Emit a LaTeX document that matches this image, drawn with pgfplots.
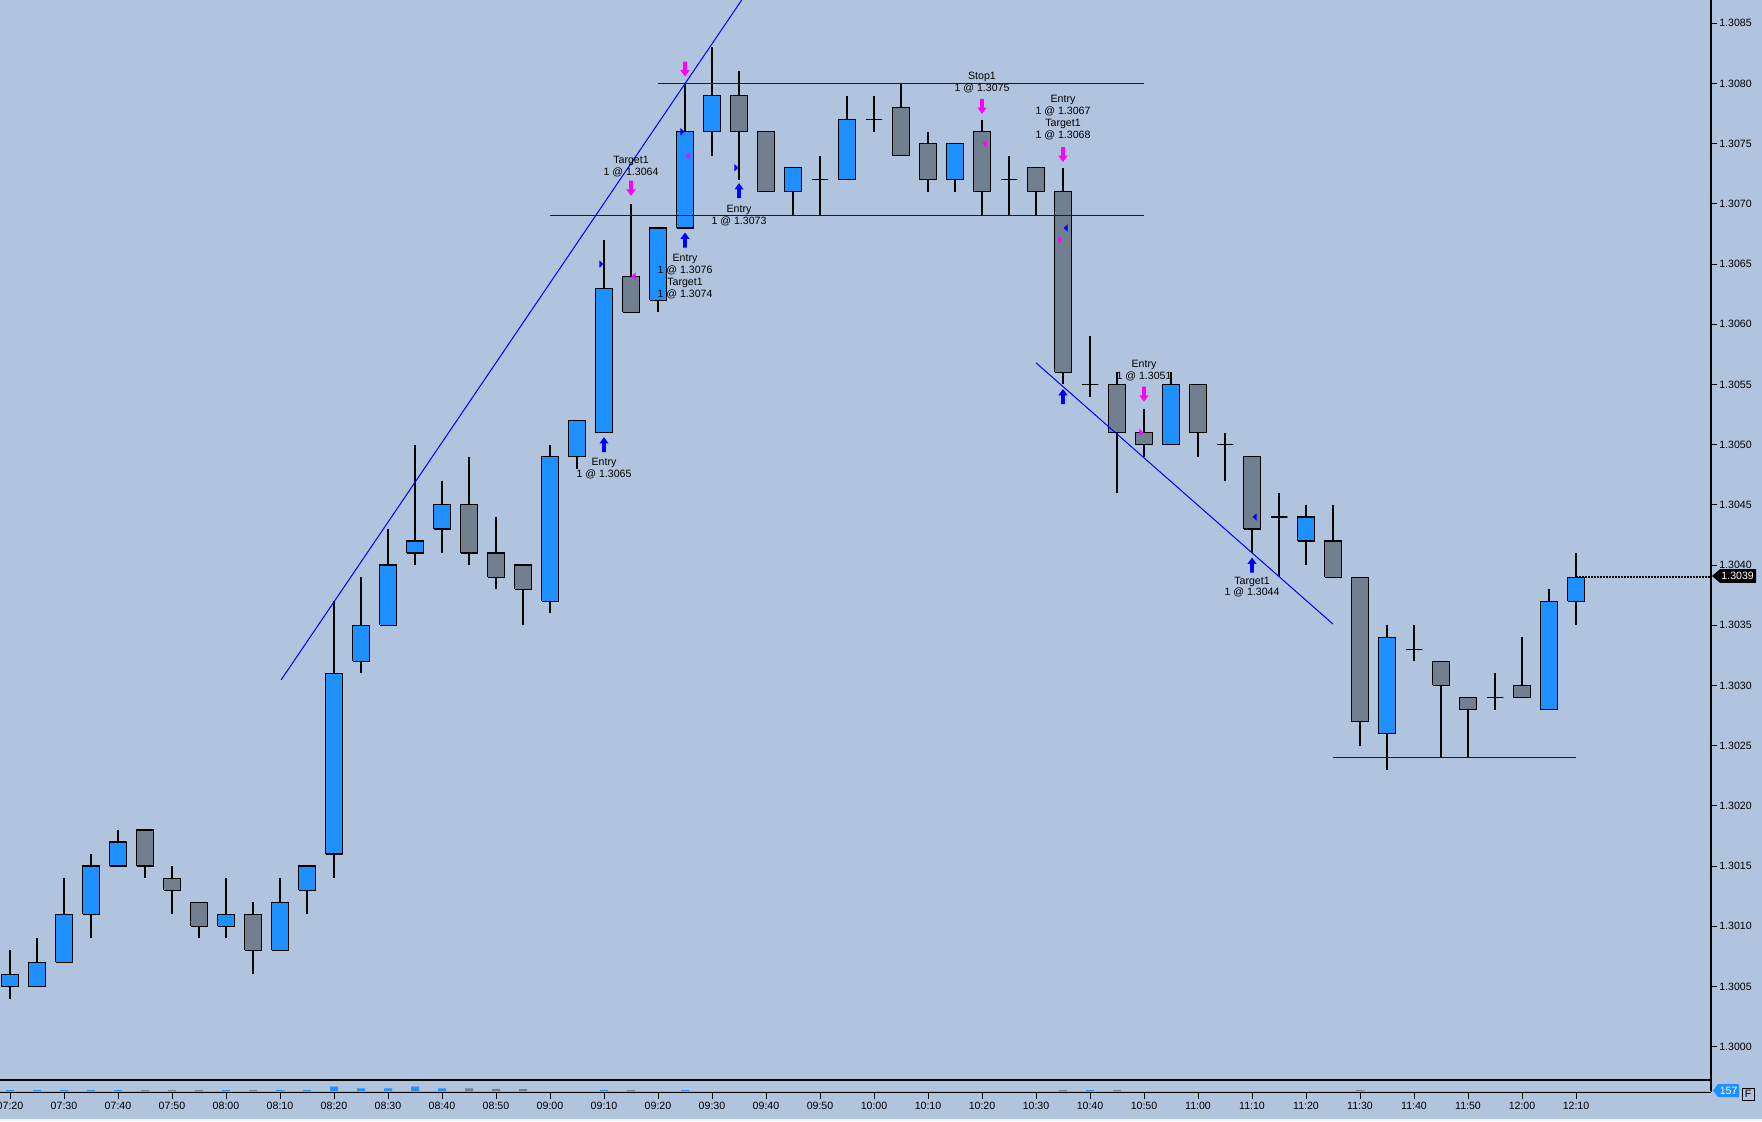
\documentclass[border=0pt]{standalone}
\usepackage{fontspec}
\setmainfont{Liberation Sans}
\usepackage{pgfplots}
\usepackage{pgfplotstable}
\pgfplotsset{compat=1.18}

\definecolor{bgc}{RGB}{176,196,222}
\definecolor{upc}{RGB}{30,144,255}
\definecolor{dnc}{RGB}{112,128,144}
\definecolor{mag}{RGB}{255,0,255}
\definecolor{lblue}{RGB}{0,0,255}
\definecolor{vline}{RGB}{165,170,180}

\newcommand\tfont{\fontsize{5.3}{6}\selectfont}

% arrow and triangle marks (fill only)
\pgfdeclareplotmark{uparr}{%
  \pgfpathmoveto{\pgfqpoint{0pt}{3.75pt}}%
  \pgfpathlineto{\pgfqpoint{2.3pt}{0.6pt}}%
  \pgfpathlineto{\pgfqpoint{0.95pt}{0.6pt}}%
  \pgfpathlineto{\pgfqpoint{0.95pt}{-3.75pt}}%
  \pgfpathlineto{\pgfqpoint{-0.95pt}{-3.75pt}}%
  \pgfpathlineto{\pgfqpoint{-0.95pt}{0.6pt}}%
  \pgfpathlineto{\pgfqpoint{-2.3pt}{0.6pt}}%
  \pgfpathclose\pgfusepathqfill}
\pgfdeclareplotmark{dnarr}{%
  \pgfpathmoveto{\pgfqpoint{0pt}{-3.75pt}}%
  \pgfpathlineto{\pgfqpoint{2.3pt}{-0.6pt}}%
  \pgfpathlineto{\pgfqpoint{0.95pt}{-0.6pt}}%
  \pgfpathlineto{\pgfqpoint{0.95pt}{3.75pt}}%
  \pgfpathlineto{\pgfqpoint{-0.95pt}{3.75pt}}%
  \pgfpathlineto{\pgfqpoint{-0.95pt}{-0.6pt}}%
  \pgfpathlineto{\pgfqpoint{-2.3pt}{-0.6pt}}%
  \pgfpathclose\pgfusepathqfill}
\pgfdeclareplotmark{rtri}{%
  \pgfpathmoveto{\pgfqpoint{0pt}{0pt}}%
  \pgfpathlineto{\pgfqpoint{-2pt}{1.8pt}}%
  \pgfpathlineto{\pgfqpoint{-2pt}{-1.8pt}}%
  \pgfpathclose\pgfusepathqfill}
\pgfdeclareplotmark{ltri}{%
  \pgfpathmoveto{\pgfqpoint{0pt}{0pt}}%
  \pgfpathlineto{\pgfqpoint{2pt}{1.8pt}}%
  \pgfpathlineto{\pgfqpoint{2pt}{-1.8pt}}%
  \pgfpathclose\pgfusepathqfill}

% 5 minute bars from 07:20 (i=0) to 12:10 (i=58)
% lo/hi = body bottom/top, up=1 for rising bar
\pgfplotstableread{
i lo hi l h up
0 1.3005 1.3006 1.3004 1.3008 1
1 1.3005 1.3007 1.3005 1.3009 1
2 1.3007 1.3011 1.3007 1.3014 1
3 1.3011 1.3015 1.3009 1.3016 1
4 1.3015 1.3017 1.3015 1.3018 1
5 1.3015 1.3018 1.3014 1.3018 0
6 1.3013 1.3014 1.3011 1.3015 0
7 1.3010 1.3012 1.3009 1.3012 0
8 1.3010 1.3011 1.3009 1.3014 1
9 1.3008 1.3011 1.3006 1.3012 0
10 1.3008 1.3012 1.3008 1.3014 1
11 1.3013 1.3015 1.3011 1.3015 1
12 1.3016 1.3031 1.3014 1.3037 1
13 1.3032 1.3035 1.3031 1.3039 1
14 1.3035 1.3040 1.3035 1.3043 1
15 1.3041 1.3042 1.3040 1.3050 1
16 1.3043 1.3045 1.3041 1.3047 1
17 1.3041 1.3045 1.3040 1.3049 0
18 1.3039 1.3041 1.3038 1.3044 0
19 1.3038 1.3040 1.3035 1.3040 0
20 1.3037 1.3049 1.3036 1.3050 1
21 1.3049 1.3052 1.3048 1.3052 1
22 1.3051 1.3063 1.3051 1.3067 1
23 1.3061 1.3064 1.3061 1.3070 0
24 1.3062 1.3068 1.3061 1.3068 1
25 1.3068 1.3076 1.3068 1.3080 1
26 1.3076 1.3079 1.3074 1.3083 1
27 1.3076 1.3079 1.3072 1.3081 0
28 1.3071 1.3076 1.3071 1.3076 0
29 1.3071 1.3073 1.3069 1.3073 1
30 1.3072 1.3072 1.3069 1.3074 1
31 1.3072 1.3077 1.3072 1.3079 1
32 1.3077 1.3077 1.3076 1.3079 1
33 1.3074 1.3078 1.3074 1.3080 0
34 1.3072 1.3075 1.3071 1.3076 0
35 1.3072 1.3075 1.3071 1.3075 1
36 1.3071 1.3076 1.3069 1.3077 0
37 1.3072 1.3072 1.3069 1.3074 1
38 1.3071 1.3073 1.3069 1.3073 0
39 1.3056 1.3071 1.3055 1.3073 0
40 1.3055 1.3055 1.3054 1.3059 1
41 1.3051 1.3055 1.3046 1.3056 0
42 1.3050 1.3051 1.3049 1.3053 0
43 1.3050 1.3055 1.3050 1.3056 1
44 1.3051 1.3055 1.3049 1.3055 0
45 1.3050 1.3050 1.3047 1.3051 1
46 1.3043 1.3049 1.3041 1.3049 0
47 1.3044 1.3044 1.3039 1.3046 1
48 1.3042 1.3044 1.3040 1.3045 1
49 1.3039 1.3042 1.3039 1.3045 0
50 1.3027 1.3039 1.3025 1.3039 0
51 1.3026 1.3034 1.3023 1.3035 1
52 1.3033 1.3033 1.3032 1.3035 1
53 1.3030 1.3032 1.3024 1.3032 0
54 1.3028 1.3029 1.3024 1.3029 0
55 1.3029 1.3029 1.3028 1.3031 1
56 1.3029 1.3030 1.3029 1.3034 0
57 1.3028 1.3037 1.3028 1.3038 1
58 1.3037 1.3039 1.3035 1.3041 1
}\candles

\tikzset{ann/.style={font=\tfont, inner sep=0pt, text height=3.8pt, text depth=0pt, anchor=center}}

\begin{document}
\begin{tikzpicture}
\fill[bgc] (0,0) rectangle (881pt,560.5pt);
\fill[white!90!gray] (0,0) rectangle (881pt,1pt);

\begin{axis}[
  at={(0pt,20.5pt)}, anchor=south west,
  width=855.5pt, height=540pt, scale only axis,
  xmin=-0.3704, xmax=63.0,
  ymin=1.2997234, ymax=1.3086935,
  clip=false,
  axis x line*=bottom, axis y line*=right,
  axis line style={black, line width=0.6pt},
  xtick=\empty,
  ytick={1.3000,1.3005,1.3010,1.3015,1.3020,1.3025,1.3030,1.3035,1.3040,1.3045,1.3050,1.3055,1.3060,1.3065,1.3070,1.3075,1.3080,1.3085},
  yticklabels={1.3000,1.3005,1.3010,1.3015,1.3020,1.3025,1.3030,1.3035,1.3040,1.3045,1.3050,1.3055,1.3060,1.3065,1.3070,1.3075,1.3080,1.3085},
  tick align=outside,
  major tick length=2.75pt,
  tick style={black, line width=0.5pt},
  yticklabel style={font=\tfont, anchor=west, inner sep=0pt, xshift=1.2pt},
]
% candles: wick, then body on top
\pgfplotsinvokeforeach{0,...,58}{%
  \pgfplotstablegetelem{#1}{lo}\of\candles\let\cLo\pgfplotsretval
  \pgfplotstablegetelem{#1}{hi}\of\candles\let\cHi\pgfplotsretval
  \pgfplotstablegetelem{#1}{l}\of\candles\let\cL\pgfplotsretval
  \pgfplotstablegetelem{#1}{h}\of\candles\let\cH\pgfplotsretval
  \pgfplotstablegetelem{#1}{up}\of\candles\let\cUp\pgfplotsretval
  \ifnum\cUp=1 \def\cCol{upc}\else\def\cCol{dnc}\fi
  \pgfmathsetmacro\xa{#1-0.305}%
  \pgfmathsetmacro\xb{#1+0.305}%
  \edef\doCandle{%
    \noexpand\addplot[black, line width=0.6pt] coordinates {(#1,\cL) (#1,\cH)};
    \noexpand\addplot[draw=black, line width=0.6pt, fill=\cCol, line join=miter]
      coordinates {(\xa,\cLo) (\xb,\cLo) (\xb,\cHi) (\xa,\cHi) (\xa,\cLo)};}%
  \doCandle
}

% trend lines
\addplot[lblue, line width=0.5pt] coordinates {(10.04,1.303046) (27.10,1.3086935)};
\addplot[lblue, line width=0.5pt] coordinates {(24,1.3080) (42,1.3080)};
\addplot[lblue, line width=0.5pt] coordinates {(20,1.3069) (42,1.3069)};
\addplot[lblue, line width=0.5pt] coordinates {(38,1.30568) (49,1.30351)};
\addplot[lblue, line width=0.5pt] coordinates {(49,1.3024) (58,1.3024)};

% last price
\addplot[black, line width=1pt, dash pattern=on 1pt off 0.5pt] coordinates {(58,1.3039) (63,1.3039)};

% fills
\addplot[only marks, mark=rtri, color=lblue] coordinates {(21.98,1.3065) (24.98,1.3076) (26.98,1.3073)};
\addplot[only marks, mark=rtri, color=mag] coordinates {(38.98,1.3067) (41.98,1.3051)};
\addplot[only marks, mark=ltri, color=lblue] coordinates {(39.02,1.3068) (46.02,1.3044)};
\addplot[only marks, mark=ltri, color=mag] coordinates {(23.02,1.3064) (25.02,1.3074) (36.02,1.3075)};

% orders
\addplot[only marks, mark=uparr, color=lblue] coordinates {(22,1.30500) (25,1.30670) (27,1.30711) (39,1.30540) (46,1.30400)};
\addplot[only marks, mark=dnarr, color=mag] coordinates {(23,1.30713) (25,1.30812) (36,1.30781) (39,1.30741) (42,1.30542)};

% order texts
\node[ann] at (axis cs:23,1.3073646) {Target1};
\node[ann] at (axis cs:23,1.3072650) {1 @ 1.3064};
\node[ann] at (axis cs:22,1.3048563) {Entry};
\node[ann] at (axis cs:22,1.3047566) {1 @ 1.3065};
\node[ann] at (axis cs:25,1.3065507) {Entry};
\node[ann] at (axis cs:25,1.3064510) {1 @ 1.3076};
\node[ann] at (axis cs:25,1.3063513) {Target1};
\node[ann] at (axis cs:25,1.3062517) {1 @ 1.3074};
\node[ann] at (axis cs:27,1.3069576) {Entry};
\node[ann] at (axis cs:27,1.3068580) {1 @ 1.3073};
\node[ann] at (axis cs:36,1.3080623) {Stop1};
\node[ann] at (axis cs:36,1.3079651) {1 @ 1.3075};
\node[ann] at (axis cs:39,1.3078704) {Entry};
\node[ann] at (axis cs:39,1.3077733) {1 @ 1.3067};
\node[ann] at (axis cs:39,1.3076728) {Target1};
\node[ann] at (axis cs:39,1.3075756) {1 @ 1.3068};
\node[ann] at (axis cs:42,1.3056736) {Entry};
\node[ann] at (axis cs:42,1.3055764) {1 @ 1.3051};
\node[ann] at (axis cs:46,1.3038738) {Target1};
\node[ann] at (axis cs:46,1.3037766) {1 @ 1.3044};
\end{axis}

% volume strip and time axis
\begin{axis}[
  at={(0pt,14.5pt)}, anchor=south west,
  width=855.5pt, height=6pt, scale only axis,
  xmin=-0.3704, xmax=63.0, ymin=-1, ymax=11,
  clip=false,
  axis x line*=bottom, axis y line*=right,
  axis line style={black, line width=0.6pt},
  ytick=\empty,
  xtick={0,2,...,58},
  xticklabels={07:20,07:30,07:40,07:50,08:00,08:10,08:20,08:30,08:40,08:50,09:00,09:10,09:20,09:30,09:40,09:50,10:00,10:10,10:20,10:30,10:40,10:50,11:00,11:10,11:20,11:30,11:40,11:50,12:00,12:10},
  tick align=outside,
  major tick length=3.5pt,
  tick style={black, line width=0.5pt},
  xticklabel style={font=\tfont, anchor=north, inner sep=0pt, text height=3.8pt, yshift=-1pt},
]
\addplot[vline, line width=0.6pt] coordinates {(-0.3704,-0.5) (63,-0.5)};
\addplot[ybar, bar width=4pt, bar shift=0pt, fill=upc, draw=none] coordinates {
  (0,1) (1,1) (2,1) (3,1) (4,1) (8,1) (10,1) (11,1) (12,4.5) (13,2.7)
  (14,2.7) (15,4.5) (16,2.7) (22,1) (25,1) (40,1)};
\addplot[ybar, bar width=4pt, bar shift=0pt, fill=dnc, draw=none] coordinates {
  (5,1) (6,1) (7,1) (9,1) (17,2.7) (18,1.8) (19,1.8) (23,1) (39,1) (41,1) (50,1)};
\end{axis}

% last price tag on the price axis
\fill[black] (856pt,272.5pt) -- (860pt,275.9pt) -- (878pt,275.9pt) -- (878pt,269.1pt) -- (860pt,269.1pt) -- cycle;
\node[ann, anchor=west, white] at (860.5pt,272.5pt) {1.3039};

% volume tag and F box
\fill[upc] (856.5pt,15.25pt) -- (859pt,18.5pt) -- (869.5pt,18.5pt) -- (869.5pt,12pt) -- (859pt,12pt) -- cycle;
\node[ann, white] at (864.3pt,15.25pt) {157};
\draw[black, line width=0.5pt] (871pt,10.5pt) rectangle (877pt,16.5pt);
\node[ann] at (874pt,13.5pt) {F};

\pgfresetboundingbox
\path[use as bounding box] (0,0) rectangle (881pt,560.5pt);
\end{tikzpicture}
\end{document}
